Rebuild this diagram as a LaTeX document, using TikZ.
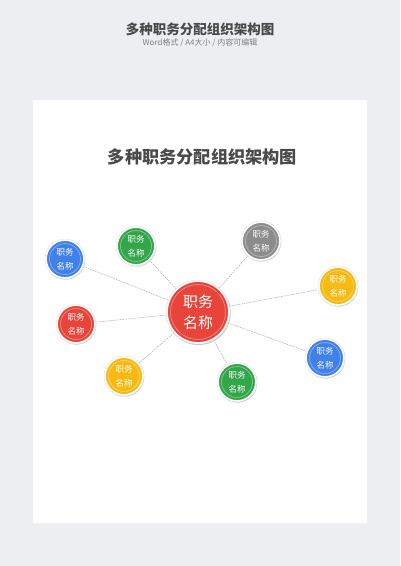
\documentclass[tikz,border=0pt]{standalone}
\usepackage{fontspec}
\newfontfamily\cjk{Noto Sans CJK SC}
\usetikzlibrary{shadows}
\definecolor{bg}{HTML}{ECEEF2}
\definecolor{cred}{HTML}{E8443A}
\definecolor{cblue}{HTML}{3F80EA}
\definecolor{cgreen}{HTML}{33A64A}
\definecolor{cgray}{HTML}{8C8C8C}
\definecolor{cyellow}{HTML}{F6BA12}
\definecolor{ttl}{HTML}{4A4A4A}
\tikzset{
  ball/.style={circle, fill=#1, draw=white, line width=1.8pt, minimum size=38pt, inner sep=0pt,
    text=white, font=\cjk\fontsize{8.5}{14}\selectfont, align=center,
    drop shadow={shadow xshift=0.5pt, shadow yshift=-0.8pt, opacity=0.4, fill=black!55, shadow scale=1.04}},
  bigball/.style={ball=#1, minimum size=62pt, font=\cjk\fontsize{15}{21}\selectfont},
  link/.style={draw=black!35, line width=0.5pt, dash pattern=on 1.5pt off 1pt},
  ring/.style={draw=white, opacity=0.35, line width=0.8pt}
}
\begin{document}
\begin{tikzpicture}[x=1pt,y=-1pt]
\useasboundingbox (0,0) rectangle (400,566);
\fill[bg] (0,0) rectangle (400,566);
\fill[black!6] (33.5,101) rectangle (368,524.5);
\fill[white] (32.5,100) rectangle (366.7,523);
\node[font=\cjk\bfseries\fontsize{13.5}{16}\selectfont, text=ttl] (hdr) at (200,29) {多种职务分配组织架构图};
\node[font=\cjk\fontsize{8}{9}\selectfont, text=black!50] (sub) at (200,43) {Word格式 / A4大小 / 内容可编辑};
\node[font=\cjk\bfseries\fontsize{17.2}{19}\selectfont, text=ttl] (title) at (202.5,157) {多种职务分配组织架构图};

\node[bigball=cred] (c) at (198,312) {职务\\名称};
\node[ball=cblue] (n1) at (65,259) {职务\\名称};
\node[ball=cgreen] (n2) at (136,246) {职务\\名称};
\node[ball=cgray] (n3) at (261,241) {职务\\名称};
\node[ball=cyellow] (n4) at (338,286) {职务\\名称};
\node[ball=cred] (n5) at (76,324) {职务\\名称};
\node[ball=cyellow] (n6) at (124,376) {职务\\名称};
\node[ball=cgreen] (n7) at (237,382) {职务\\名称};
\node[ball=cblue] (n8) at (325,358) {职务\\名称};

\foreach \n in {n1,n2,n3,n4,n5,n6,n7,n8}{
  \draw[link] (c) -- (\n);
  \draw[ring] (\n.center) circle (15.5);
  \draw[black!12, line width=0.4pt] (\n.center) circle (20);
}
\draw[ring] (c.center) circle (27.5);
\draw[black!12, line width=0.4pt] (c.center) circle (32);
\end{tikzpicture}
\end{document}
